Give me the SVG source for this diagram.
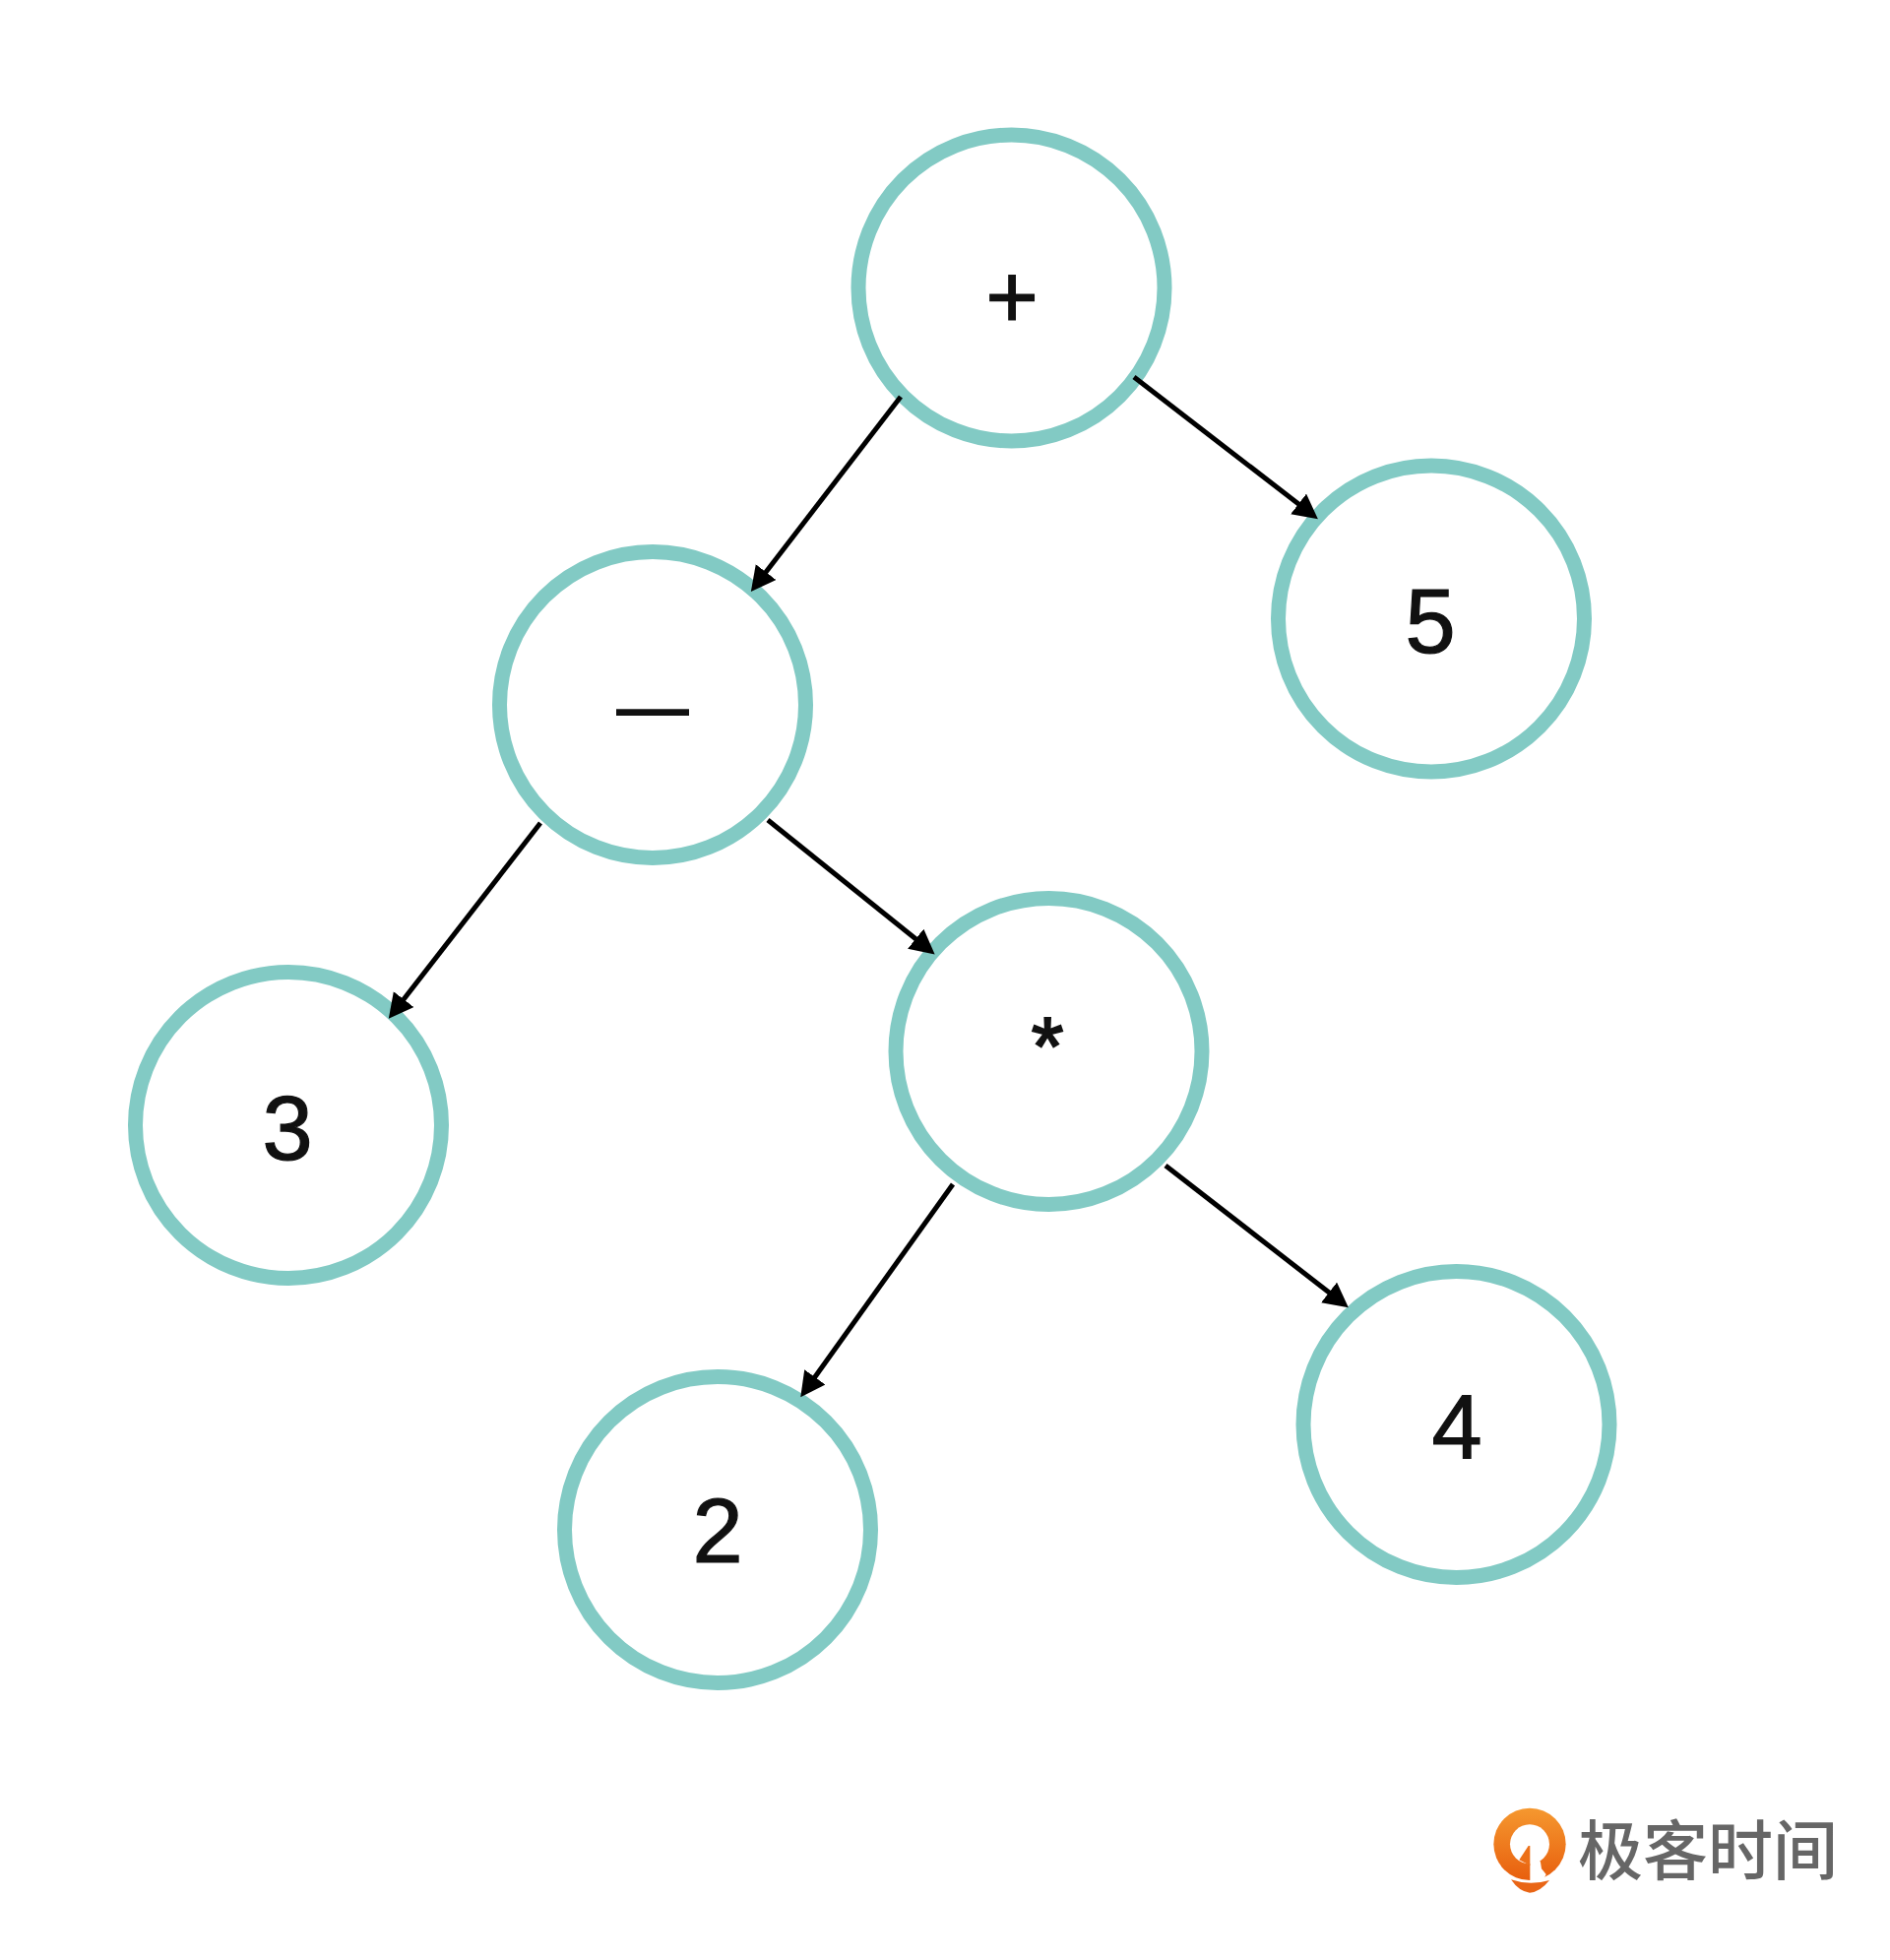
<svg xmlns="http://www.w3.org/2000/svg" width="1920" height="1991" viewBox="0 0 1920 1991">
<style>
.n{fill:#fff;stroke:#82CAC4;stroke-width:15}
.t{font-family:"Liberation Sans",Arial,sans-serif;font-size:92px;fill:#111;stroke:#111;stroke-width:1.2;text-anchor:middle}
.c{fill:none;stroke:#000;stroke-width:5;marker-end:url(#a)}
.logo{font-family:"Noto Sans CJK SC","Noto Sans",sans-serif;font-size:66px;fill:#666;font-weight:500}
</style>
<defs>
<marker id="a" markerUnits="userSpaceOnUse" markerWidth="28" markerHeight="28" refX="10" refY="13" orient="auto"><path d="M0,0L25,13L0,26Z" fill="#000"/></marker>
<linearGradient id="g" x1="0" y1="0" x2="0" y2="1"><stop offset="0" stop-color="#F5982F"/><stop offset="1" stop-color="#E85F0E"/></linearGradient>
</defs>
<rect width="1920" height="1991" fill="#fff"/>
<g id="node-plus"><circle class="n" cx="1027.5" cy="292.5" r="155.5"/><text class="t" x="1028" y="333">+</text></g>
<g id="node-5"><circle class="n" cx="1454" cy="628.5" r="155.5"/><text class="t" x="1453" y="663">5</text></g>
<g id="node-minus"><circle class="n" cx="663" cy="716" r="155.5"/><text class="t" x="663" y="742" style="font-size:72px;stroke-width:2">—</text></g>
<g id="node-star"><circle class="n" cx="1065.5" cy="1068" r="155.5"/><text class="t" x="1064" y="1092" style="font-size:84px;stroke-width:2">*</text></g>
<g id="node-3"><circle class="n" cx="293" cy="1143" r="155.5"/><text class="t" x="292" y="1178">3</text></g>
<g id="node-2"><circle class="n" cx="729" cy="1554" r="155.5"/><text class="t" x="729" y="1587">2</text></g>
<g id="node-4"><circle class="n" cx="1479.5" cy="1447" r="155.5"/><text class="t" x="1480" y="1481">4</text></g>
<g id="connectors">
<path class="c" d="M915,403L772,589"/>
<path class="c" d="M1152,383L1327,518"/>
<path class="c" d="M549,836L404,1023"/>
<path class="c" d="M780,833L938,960"/>
<path class="c" d="M968,1203L822,1407"/>
<path class="c" d="M1184,1184L1358,1319"/>
</g>
<g id="logo">
<g transform="translate(1510 1830) scale(.3333)">
<circle cx="132" cy="130" r="110" fill="url(#g)"/>
<circle cx="132" cy="130" r="60" fill="#fff"/>
<path d="M133,120L165,185L168,205L182,222L170,245L133,245Z" fill="#fff"/>
<path d="M128,135L133,135L133,195L100,178Z" fill="#EC7018"/>
<path d="M75,238Q132,258 192,240Q165,275 132,278Q100,275 75,238Z" fill="#E96515"/>
</g>
<text class="logo" x="1603" y="1904">极客时间</text>
</g>
</svg>
